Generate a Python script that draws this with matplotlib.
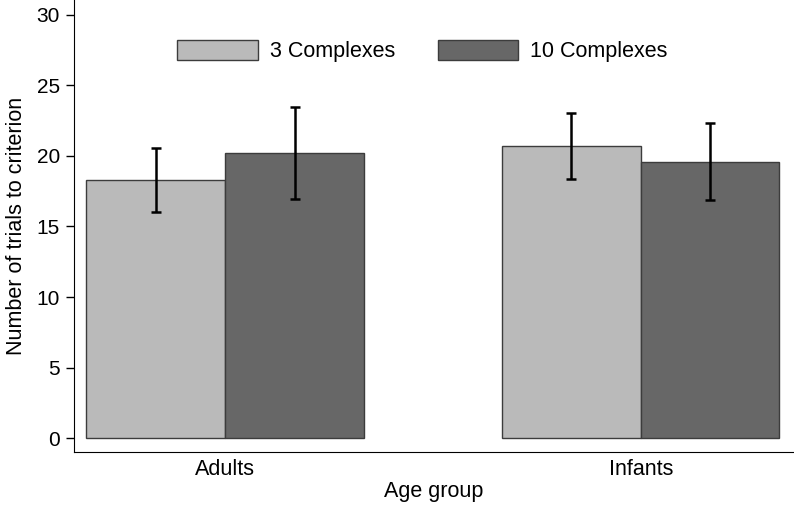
import numpy as np
import matplotlib
matplotlib.use("Agg")
import matplotlib.pyplot as plt

plt.rcParams['font.family'] = ['Liberation Sans', 'DejaVu Sans']

groups = ["Adults", "Infants"]
series = ["3 Complexes", "10 Complexes"]
means_3 = [18.3, 20.7]
err_3 = [2.28, 2.31]
means_10 = [20.2, 19.6]
err_10 = [3.28, 2.72]
colors = ["#bababa", "#676767"]

fig = plt.figure(figsize=(7.94, 5.05), dpi=100)
ax = fig.add_axes([0.0932, 0.1055, 0.9068, 0.8945])

x = np.arange(len(groups))
w = 0.334
ax.bar(x - w / 2, means_3, w, color=colors[0], edgecolor="#3c3c3c", linewidth=1.0,
       label=series[0])
ax.bar(x + w / 2, means_10, w, color=colors[1], edgecolor="#3c3c3c", linewidth=1.0,
       label=series[1])
ax.errorbar(x - w / 2, means_3, yerr=err_3, fmt="none", ecolor="black",
            elinewidth=1.8, capsize=3.6, capthick=1.8)
ax.errorbar(x + w / 2, means_10, yerr=err_10, fmt="none", ecolor="black",
            elinewidth=1.8, capsize=3.6, capthick=1.8)

ax.set_xlim(-0.364, 1.369)
ax.set_ylim(-0.95, 31.04)
ax.set_yticks(np.arange(0, 31, 5))
ax.set_xticks(x)
ax.set_xticklabels(groups)
ax.tick_params(axis="x", length=0, labelsize=15.5, pad=5)
ax.tick_params(axis="y", length=6, width=1, labelsize=15, pad=4)
ax.spines["top"].set_visible(False)
ax.spines["right"].set_visible(False)
ax.set_xlabel("Age group", fontsize=15.5, labelpad=1)
ax.set_ylabel("Number of trials to criterion", fontsize=15.5, labelpad=7)

ax.legend(loc="center", bbox_to_anchor=(0.532, 0.899), bbox_transform=fig.transFigure,
          ncol=2, frameon=False, fontsize=15.5, handlelength=3.72, handleheight=1.1,
          handletextpad=0.56, columnspacing=2.0)

fig.savefig("out.png", dpi=100)
